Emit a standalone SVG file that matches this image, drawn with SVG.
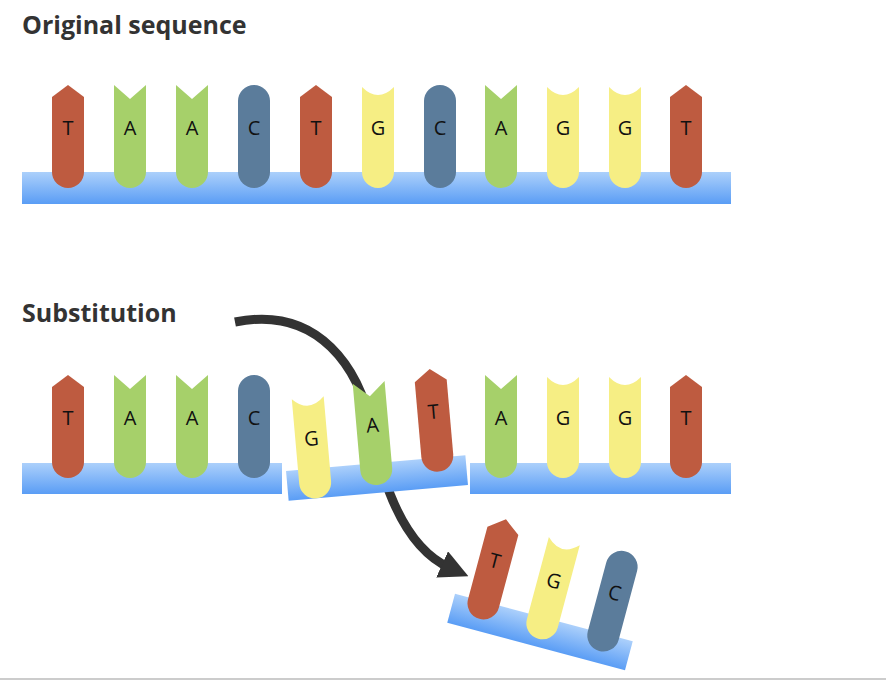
<svg xmlns="http://www.w3.org/2000/svg" xmlns:xlink="http://www.w3.org/1999/xlink" width="886" height="682" viewBox="0 0 886 682">
<style>
.t{fill:#be5b40}.a{fill:#a6d06a}.c{fill:#5b7c9b}.g{fill:#f6ee84}
.l{font-family:"Open Sans",sans-serif;font-size:20px;fill:#111;text-anchor:middle}
.h{font-family:"Open Sans",sans-serif;font-size:25px;font-weight:bold;fill:#333}
.bb{fill:url(#bg)}
</style>
<defs>
<linearGradient id="bg" x1="0" y1="0" x2="0" y2="1"><stop offset="0" stop-color="#acd0fb"/><stop offset="1" stop-color="#5a9df5"/></linearGradient>
<path id="T" class="t" d="M-16,12 L0,0 L16,12 V87 A16,16 0 0 1 -16,87 Z"/>
<path id="A" class="a" d="M-16,0 L0,14 L16,0 V87 A16,16 0 0 1 -16,87 Z"/>
<path id="C" class="c" d="M-16,16 A16,16 0 0 1 16,16 V87 A16,16 0 0 1 -16,87 Z"/>
<path id="G" class="g" d="M-16,2 Q0,18 16,2 V87 A16,16 0 0 1 -16,87 Z"/>
<marker id="ah" viewBox="0 0 10 10" refX="3" refY="5" markerWidth="3.2" markerHeight="3.2" orient="auto" markerUnits="strokeWidth"><path d="M0,0 L10,5 L0,10 Z" fill="#333"/></marker>
</defs>
<rect width="886" height="682" fill="#fff"/>
<line x1="0" y1="679" x2="886" y2="679" stroke="#bbb" stroke-width="1.5"/>
<text class="h" x="22" y="34">Original sequence</text>
<text class="h" x="22" y="322">Substitution</text>
<g id="original">
<rect class="bb" x="22" y="172" width="709" height="32"/>
<g transform="translate(68,85)"><use href="#T"/><text class="l" y="50">T</text></g>
<g transform="translate(130,85)"><use href="#A"/><text class="l" y="50">A</text></g>
<g transform="translate(192,85)"><use href="#A"/><text class="l" y="50">A</text></g>
<g transform="translate(254,85)"><use href="#C"/><text class="l" y="50">C</text></g>
<g transform="translate(316,85)"><use href="#T"/><text class="l" y="50">T</text></g>
<g transform="translate(378,85)"><use href="#G"/><text class="l" y="50">G</text></g>
<g transform="translate(440,85)"><use href="#C"/><text class="l" y="50">C</text></g>
<g transform="translate(501,85)"><use href="#A"/><text class="l" y="50">A</text></g>
<g transform="translate(563,85)"><use href="#G"/><text class="l" y="50">G</text></g>
<g transform="translate(625,85)"><use href="#G"/><text class="l" y="50">G</text></g>
<g transform="translate(686,85)"><use href="#T"/><text class="l" y="50">T</text></g>
</g>
<g id="connectors">
<path d="M235,322 C320,305 360,370 372,430 C386,500 410,550 450,568" fill="none" stroke="#333" stroke-width="9" marker-end="url(#ah)"/>
</g>
<g id="left">
<rect class="bb" x="22" y="463" width="260" height="31"/>
<g transform="translate(68,375)"><use href="#T"/><text class="l" y="50">T</text></g>
<g transform="translate(130,375)"><use href="#A"/><text class="l" y="50">A</text></g>
<g transform="translate(192,375)"><use href="#A"/><text class="l" y="50">A</text></g>
<g transform="translate(254,375)"><use href="#C"/><text class="l" y="50">C</text></g>
</g>
<g id="middle" transform="translate(377,478) rotate(-5)">
<rect class="bb" x="-90" y="-15" width="180" height="30"/>
<g transform="translate(-62,-88)"><use href="#G"/><text class="l" y="50">G</text></g>
<g transform="translate(0,-96)"><use href="#A"/><text class="l" y="50">A</text></g>
<g transform="translate(62,-104)"><use href="#T"/><text class="l" y="50">T</text></g>
</g>
<g id="right">
<rect class="bb" x="470" y="463" width="261" height="31"/>
<g transform="translate(501,375)"><use href="#A"/><text class="l" y="50">A</text></g>
<g transform="translate(563,375)"><use href="#G"/><text class="l" y="50">G</text></g>
<g transform="translate(625,375)"><use href="#G"/><text class="l" y="50">G</text></g>
<g transform="translate(686,375)"><use href="#T"/><text class="l" y="50">T</text></g>
</g>
<g id="removed" transform="translate(540,632) rotate(15)">
<rect class="bb" x="-92" y="-15" width="184" height="30"/>
<g transform="translate(-62,-100)"><use href="#T"/><text class="l" y="50">T</text></g>
<g transform="translate(0,-96)"><use href="#G"/><text class="l" y="50">G</text></g>
<g transform="translate(62,-100)"><use href="#C"/><text class="l" y="50">C</text></g>
</g>
</svg>
